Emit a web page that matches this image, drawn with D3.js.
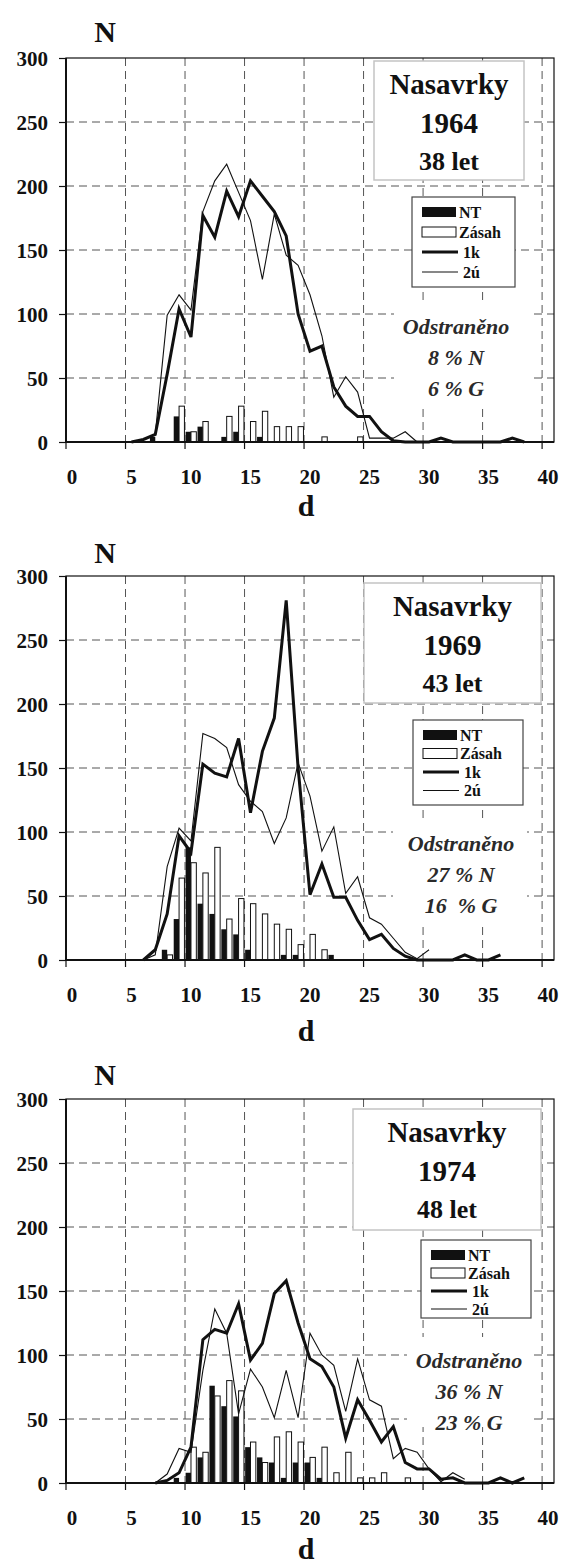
<!DOCTYPE html>
<html>
<head>
<meta charset="utf-8">
<script src="https://cdn.jsdelivr.net/npm/d3@7"></script>
<style>
body { margin: 0; background: #fff; }
svg text { font-family: "Liberation Serif", "Times New Roman", serif; font-weight: bold; fill: #111; }
</style>
</head>
<body>
<svg width="561" height="1566"></svg>
<script>
// diameter classes on the category axis
var cats = d3.range(0, 41);
var xTicks = [0, 5, 10, 15, 20, 25, 30, 35, 40];
var yTicks = [0, 50, 100, 150, 200, 250, 300];

// --- 1964 ---
var lineCls64 = d3.range(5, 39);
var k1_64 = [0,2,6,53,104,82,177,160,196,176,204,192,180,161,100,71,75,43,28,20,20,8,1,0,0,0,3,0,0,0,0,0,3,0];
var u2Cls64 = d3.range(5, 30);
var u2_64 = [0,2,6,99,115,103,180,204,217,195,173,127,178,146,138,115,83,35,51,39,3,3,3,8,0];
var barCls64 = d3.range(7, 25);
var nt64  = [4,0,20,8,12,0,4,8,0,4,0,0,0,0,0,0,0,0];
var zas64 = [0,0,28,8,16,0,20,28,16,24,12,12,12,0,4,0,0,4];

// --- 1969 ---
var lineCls69 = d3.range(6, 37);
var k1_69 = [0,8,36,97,84,153,146,143,173,115,163,189,281,150,51,75,49,49,31,16,20,9,3,0,0,0,0,4,0,0,4];
var u2Cls69 = d3.range(6, 31);
var u2_69 = [0,4,73,103,93,177,173,166,137,124,116,91,111,154,128,85,104,52,65,33,28,17,6,1,8];
var barCls69 = d3.range(8, 23);
var nt69  = [8,32,88,44,36,24,20,8,0,0,4,4,0,0,4];
var zas69 = [4,64,76,68,88,32,48,44,36,28,24,12,20,8,0];

// --- 1974 ---
var lineCls74 = d3.range(7, 39);
var k1_74 = [0,2,8,28,112,120,117,140,96,109,148,158,125,97,91,75,35,65,49,32,44,16,11,11,3,4,0,0,0,4,0,4];
var u2Cls74 = d3.range(7, 34);
var u2_74 = [0,7,27,24,88,136,117,54,89,75,51,88,51,117,100,92,56,97,65,60,19,27,24,11,1,8,3];
var barCls74 = d3.range(9, 29);
var nt74  = [4,8,20,76,60,52,28,20,16,4,16,16,4,0,0,0,0,0,0,0];
var zas74 = [0,28,24,68,80,72,32,16,36,40,32,20,28,8,24,4,4,8,0,4];

var legendNames = ["NT", "Zásah", "1k", "2ú"];

var panels = [
  { top: 58, place: "Nasavrky", year: "1964", age: "38 let", removed: ["Odstraněno", "8 % N", "6 % G"],
    lc: lineCls64, k1: k1_64, uc: u2Cls64, u2: u2_64, bc: barCls64, nt: nt64, zas: zas64,
    title: [374, 3, 150, 119], legend: [412, 139, 103, 90, 20], note: [394, 245, 136, 102, 456],
    nY: -16, dY: 458 },
  { top: 576, place: "Nasavrky", year: "1969", age: "43 let", removed: ["Odstraněno", "27 % N", "16  % G"],
    lc: lineCls69, k1: k1_69, uc: u2Cls69, u2: u2_69, bc: barCls69, nt: nt69, zas: zas69,
    title: [364, 7, 177, 120], legend: [413, 144, 110, 85, 18.5], note: [393, 244, 134, 107, 461],
    nY: -13, dY: 465 },
  { top: 1099, place: "Nasavrky", year: "1974", age: "48 let", removed: ["Odstraněno", "36 % N", "23 % G"],
    lc: lineCls74, k1: k1_74, uc: u2Cls74, u2: u2_74, bc: barCls74, nt: nt74, zas: zas74,
    title: [353, 10, 188, 121], legend: [421, 141, 110, 78, 18], note: [407, 238, 123, 90, 469],
    nY: -14, dY: 460 }
];

var svg = d3.select("svg");
var plotL = 66, plotR = 554, plotH = 384;

var x = d3.scaleBand().domain(cats).range([plotL, plotR]).paddingInner(0).paddingOuter(0);
var bw = x.bandwidth();
var y = d3.scaleLinear().domain([0, 300]).range([plotH, 0]);

panels.forEach(function(p) {
  var g = svg.append("g").attr("transform", "translate(0," + p.top + ")");

  // grid
  g.selectAll(".gx").data(xTicks.slice(1)).enter().append("line")
    .attr("x1", function(d) { return x(d); }).attr("x2", function(d) { return x(d); })
    .attr("y1", 0).attr("y2", plotH)
    .attr("stroke", "#555").attr("stroke-width", 1).attr("stroke-dasharray", "8,5");
  g.selectAll(".gy").data(yTicks.slice(1, -1)).enter().append("line")
    .attr("x1", plotL).attr("x2", plotR)
    .attr("y1", function(d) { return y(d); }).attr("y2", function(d) { return y(d); })
    .attr("stroke", "#555").attr("stroke-width", 1).attr("stroke-dasharray", "8,5");

  // bars
  var bars = p.bc.map(function(c, i) { return { c: c, nt: p.nt[i], zas: p.zas[i] }; });
  g.selectAll(".nt").data(bars.filter(function(d) { return d.nt > 0; })).enter().append("rect")
    .attr("x", function(d) { return x(d.c) + bw * 0.05; })
    .attr("width", bw * 0.45)
    .attr("y", function(d) { return y(d.nt); })
    .attr("height", function(d) { return y(0) - y(d.nt); })
    .attr("fill", "#111");
  g.selectAll(".zas").data(bars.filter(function(d) { return d.zas > 0; })).enter().append("rect")
    .attr("x", function(d) { return x(d.c) + bw * 0.5; })
    .attr("width", bw * 0.45)
    .attr("y", function(d) { return y(d.zas); })
    .attr("height", function(d) { return y(0) - y(d.zas); })
    .attr("fill", "#fff").attr("stroke", "#111").attr("stroke-width", 1);

  // lines
  var line = d3.line()
    .x(function(d) { return x(d[0]) + bw / 2; })
    .y(function(d) { return y(d[1]); });
  g.append("path").datum(d3.zip(p.uc, p.u2)).attr("d", line)
    .attr("fill", "none").attr("stroke", "#111").attr("stroke-width", 1.1).attr("stroke-linejoin", "miter");
  g.append("path").datum(d3.zip(p.lc, p.k1)).attr("d", line)
    .attr("fill", "none").attr("stroke", "#111").attr("stroke-width", 3).attr("stroke-linejoin", "miter");

  // frame
  g.append("rect").attr("x", plotL).attr("y", 0).attr("width", plotR - plotL).attr("height", plotH)
    .attr("fill", "none").attr("stroke", "#111").attr("stroke-width", 1.2);
  g.append("line").attr("x1", plotL).attr("x2", plotL).attr("y1", 0).attr("y2", plotH)
    .attr("stroke", "#111").attr("stroke-width", 2);
  g.append("line").attr("x1", plotL).attr("x2", plotR).attr("y1", plotH).attr("y2", plotH)
    .attr("stroke", "#111").attr("stroke-width", 2);

  // y axis
  var ya = g.append("g").attr("transform", "translate(" + plotL + ",0)")
    .call(d3.axisLeft(y).tickValues(yTicks).tickSize(7).tickPadding(11));
  ya.select(".domain").remove();
  ya.selectAll("line").attr("stroke", "#111").attr("stroke-width", 1.2);
  ya.selectAll("text").attr("font-size", 21).attr("font-family", null).attr("fill", null).attr("dy", "0.36em");

  // x axis
  var xa = g.append("g").attr("transform", "translate(0," + plotH + ")");
  xa.selectAll("line").data(xTicks).enter().append("line")
    .attr("x1", function(d) { return x(d); }).attr("x2", function(d) { return x(d); })
    .attr("y1", 0).attr("y2", 7).attr("stroke", "#111").attr("stroke-width", 1.2);
  xa.selectAll("text").data(xTicks).enter().append("text")
    .attr("x", function(d) { return x(d) + bw / 2; })
    .attr("y", 42).attr("text-anchor", "middle").attr("font-size", 21)
    .text(function(d) { return d; });

  // axis titles
  g.append("text").attr("x", 105).attr("y", p.nY).attr("text-anchor", "middle").attr("font-size", 30).text("N");
  g.append("text").attr("x", 306).attr("y", p.dY).attr("text-anchor", "middle").attr("font-size", 30).text("d");

  // title box
  var t = p.title, tcx = t[0] + t[2] / 2;
  g.append("rect").attr("x", t[0]).attr("y", t[1]).attr("width", t[2]).attr("height", t[3])
    .attr("fill", "#fff").attr("stroke", "#c4c4c4").attr("stroke-width", 1.5);
  g.append("text").attr("x", tcx).attr("y", t[1] + 33).attr("text-anchor", "middle").attr("font-size", 29).text(p.place);
  g.append("text").attr("x", tcx).attr("y", t[1] + 72).attr("text-anchor", "middle").attr("font-size", 29).text(p.year);
  g.append("text").attr("x", tcx).attr("y", t[1] + 109).attr("text-anchor", "middle").attr("font-size", 26).text(p.age);

  // legend
  var L = p.legend;
  g.append("rect").attr("x", L[0]).attr("y", L[1]).attr("width", L[2]).attr("height", L[3])
    .attr("fill", "#fff").attr("stroke", "#444").attr("stroke-width", 1.2);
  legendNames.forEach(function(name, i) {
    var ry = L[1] + 15 + i * L[4], sx = L[0] + 10;
    if (i === 0) {
      g.append("rect").attr("x", sx).attr("y", ry - 5).attr("width", 34).attr("height", 10).attr("fill", "#111");
    } else if (i === 1) {
      g.append("rect").attr("x", sx).attr("y", ry - 5).attr("width", 34).attr("height", 10)
        .attr("fill", "#fff").attr("stroke", "#111").attr("stroke-width", 1);
    } else {
      g.append("line").attr("x1", sx).attr("x2", sx + 36).attr("y1", ry).attr("y2", ry)
        .attr("stroke", "#111").attr("stroke-width", i === 2 ? 3 : 1.1);
    }
    g.append("text").attr("x", L[0] + (i < 2 ? 47 : 51)).attr("y", ry + 5.5).attr("font-size", 16).text(name);
  });

  // removed share note
  var n = p.note;
  g.append("rect").attr("x", n[0]).attr("y", n[1]).attr("width", n[2]).attr("height", n[3]).attr("fill", "#fff");
  p.removed.forEach(function(s, i) {
    g.append("text").attr("x", n[4]).attr("y", n[1] + 31 + i * 31)
      .attr("text-anchor", "middle").attr("font-size", 22).attr("font-style", "italic")
      .style("fill", "#2a2a2a").style("white-space", "pre").text(s);
  });
});
</script>
</body>
</html>
